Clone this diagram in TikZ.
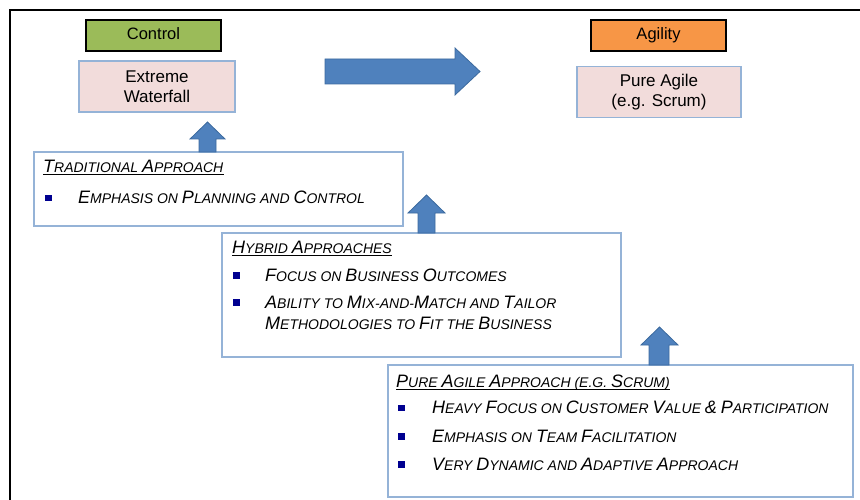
\documentclass[tikz,border=0pt]{standalone}
\usepackage{fontspec}
\setmainfont{Liberation Sans}
\definecolor{arrowblue}{HTML}{4F81BD}
\definecolor{arrowedge}{HTML}{3C6A9E}
\definecolor{boxedge}{HTML}{95B3D7}
\definecolor{pinkfill}{HTML}{F2DCDB}
\definecolor{ctrlgreen}{HTML}{9BBB59}
\definecolor{agileorange}{HTML}{F79646}
\definecolor{bulletblue}{HTML}{000090}
\newcommand\Bsz{\fontsize{18}{20}\selectfont}
\newcommand\sm[1]{{\fontsize{14}{20}\selectfont #1}}
\begin{document}
\begin{tikzpicture}[x=1pt,y=-1pt,
 tag/.style={draw=black,line width=1.2pt,minimum width=135pt,minimum height=31pt,inner sep=0pt,text height=12.5pt,text depth=3.5pt,font=\fontsize{16.5}{20}\selectfont},
 labelbox/.style={draw=boxedge,fill=pinkfill,line width=1.5pt,inner sep=0pt,align=center,font=\fontsize{17}{20}\selectfont},
 panel/.style={draw=boxedge,line width=1.5pt,inner sep=0pt},
 txt/.style={anchor=base west,inner sep=0pt,font=\Bsz\itshape},
 bul/.style={fill=bulletblue,minimum size=6.5pt,inner sep=0pt},
 bigarrow/.style={fill=arrowblue,draw=arrowedge,line width=0.8pt,line join=miter},
 uline/.style={line width=1pt}]
\useasboundingbox (0,0) rectangle (860,500);
% frame
\draw[line width=2.5pt] (860,10) -- (10,10) -- (10,500);

% top tags and labels
\node[tag,fill=ctrlgreen] (control) at (153.5,35.5) {Control};
\node[labelbox,minimum width=156pt,minimum height=51pt] (extreme) at (157,86.5) {Extreme\\Waterfall};
\node[tag,fill=agileorange] (agility) at (658.5,35.5) {Agility};
\node[labelbox,minimum width=164pt,minimum height=51pt] (pureagile) at (659,92) {Pure Agile\\(e.g. Scrum)};

% big right arrow
\filldraw[bigarrow] (325,59) -- (455,59) -- (455,48) -- (480,71.5) -- (455,95) -- (455,84) -- (325,84) -- cycle;

% panels
\node[panel,minimum width=369pt,minimum height=74pt] (trad) at (218.5,189) {};
\node[panel,minimum width=399pt,minimum height=124pt] (hybrid) at (421.5,295) {};
\node[panel,minimum width=465pt,minimum height=132pt] (pure) at (620.5,431) {};

% up arrows
\filldraw[bigarrow] (199,152) -- (199,139) -- (190,139) -- (207.5,122) -- (225,139) -- (216,139) -- (216,152) -- cycle;
\filldraw[bigarrow] (418,233) -- (418,213) -- (408,213) -- (426.5,195) -- (445,213) -- (435,213) -- (435,233) -- cycle;
\filldraw[bigarrow] (649,365) -- (649,345) -- (641,345) -- (659.5,327) -- (678,345) -- (669,345) -- (669,365) -- cycle;

% traditional
\node[txt] (th) at (43,172) {T\sm{RADITIONAL }A\sm{PPROACH}};
\draw[uline] ([yshift=-2.5pt]th.base west) -- ([yshift=-2.5pt]th.base east);
\node[bul] (tb1) at (48.5,198) {};
\node[txt] (tt1) at (78,204) {E\sm{MPHASIS ON }P\sm{LANNING AND }C\sm{ONTROL}};

% hybrid
\node[txt] (hh) at (232,253) {H\sm{YBRID }A\sm{PPROACHES}};
\draw[uline] ([yshift=-2.5pt]hh.base west) -- ([yshift=-2.5pt]hh.base east);
\node[bul] (hb1) at (236.5,275.5) {};
\node[txt] (ht1) at (265,281) {F\sm{OCUS ON }B\sm{USINESS }O\sm{UTCOMES}};
\node[bul] (hb2) at (236.5,302.5) {};
\node[txt] (ht2) at (265,308) {A\sm{BILITY TO }M\sm{IX-AND-}M\sm{ATCH AND }T\sm{AILOR}};
\node[txt] (ht3) at (265,329) {M\sm{ETHODOLOGIES TO }F\sm{IT THE }B\sm{USINESS}};

% pure agile
\node[txt] (ph) at (396,387) {P\sm{URE }A\sm{GILE }A\sm{PPROACH (E.G. }S\sm{CRUM)}};
\draw[uline] ([yshift=-2.5pt]ph.base west) -- ([yshift=-2.5pt]ph.base east);
\node[bul] (pb1) at (401.5,408) {};
\node[txt] (pt1) at (432,413) {H\sm{EAVY }F\sm{OCUS ON }C\sm{USTOMER }V\sm{ALUE }\&\sm{ }P\sm{ARTICIPATION}};
\node[bul] (pb2) at (401.5,436.5) {};
\node[txt] (pt2) at (432,442) {E\sm{MPHASIS ON }T\sm{EAM }F\sm{ACILITATION}};
\node[bul] (pb3) at (401.5,464.5) {};
\node[txt] (pt3) at (432,470) {V\sm{ERY }D\sm{YNAMIC AND }A\sm{DAPTIVE }A\sm{PPROACH}};
\end{tikzpicture}
\end{document}
